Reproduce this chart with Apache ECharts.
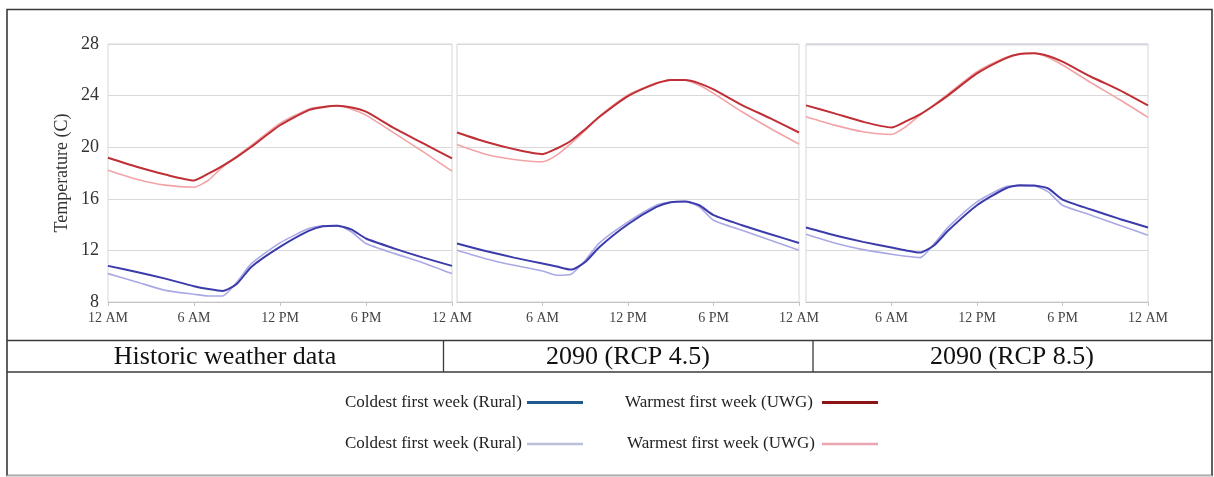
<!DOCTYPE html>
<html><head><meta charset="utf-8">
<script src="https://cdn.jsdelivr.net/npm/echarts@6/dist/echarts.min.js"></script>
<style>html,body{margin:0;padding:0;background:#fff}#c{width:1214px;height:477px}</style>
</head><body><div id="c"></div><script>
// ---- data ----
const hours = [0, 2, 4, 6, 7, 8, 9, 10, 12, 14, 15, 16, 17, 18, 20, 22, 24];
const tickLabels = ['12 AM', '6 AM', '12 PM', '6 PM', '12 AM'];
const yTicks = [8, 12, 16, 20, 24, 28];
const panelTitles = ['Historic weather data', '2090 (RCP 4.5)', '2090 (RCP 8.5)'];
const legendLabels = ['Coldest first week (Rural)', 'Warmest first week (UWG)', 'Coldest first week (Rural)', 'Warmest first week (UWG)'];

// Historic weather data
const histWarmDark  = [19.18, 18.48, 17.88, 17.42, 17.95, 18.56, 19.25, 20.03, 21.70, 22.88, 23.10, 23.21, 23.08, 22.75, 21.45, 20.29, 19.13];
const histWarmLight = [18.22, 17.52, 17.06, 16.90, 17.44, 18.48, 19.30, 20.15, 21.85, 22.95, 23.15, 23.21, 22.95, 22.49, 21.07, 19.64, 18.14];
const histColdDark  = [10.80, 10.33, 9.81, 9.22, 9.00, 8.85, 9.42, 10.72, 12.27, 13.51, 13.87, 13.92, 13.61, 12.92, 12.14, 11.44, 10.80];
const histColdLight = [10.20, 9.55, 8.90, 8.60, 8.47, 8.47, 9.55, 10.97, 12.58, 13.69, 13.90, 13.92, 13.43, 12.53, 11.75, 11.03, 10.20];
// 2090 RCP 4.5
const rcp45WarmDark  = [21.14, 20.42, 19.85, 19.46, 19.90, 20.50, 21.40, 22.36, 23.96, 24.95, 25.20, 25.20, 24.95, 24.48, 23.27, 22.23, 21.14];
const rcp45WarmLight = [20.21, 19.46, 19.05, 18.87, 19.38, 20.29, 21.30, 22.40, 24.05, 25.00, 25.20, 25.20, 24.80, 24.17, 22.75, 21.45, 20.24];
const rcp45ColdDark  = [12.53, 11.96, 11.44, 10.98, 10.75, 10.51, 11.10, 12.27, 14.03, 15.37, 15.74, 15.79, 15.50, 14.73, 13.95, 13.25, 12.58];
const rcp45ColdLight = [12.01, 11.36, 10.85, 10.41, 10.07, 10.15, 11.23, 12.58, 14.21, 15.50, 15.75, 15.79, 15.37, 14.34, 13.56, 12.79, 12.01];
// 2090 RCP 8.5
const rcp85WarmDark  = [23.24, 22.62, 21.97, 21.53, 22.00, 22.54, 23.25, 24.04, 25.72, 26.89, 27.22, 27.28, 27.07, 26.63, 25.46, 24.43, 23.24];
const rcp85WarmLight = [22.36, 21.71, 21.20, 20.99, 21.58, 22.49, 23.30, 24.15, 25.85, 26.95, 27.25, 27.28, 26.95, 26.37, 25.00, 23.70, 22.31];
const rcp85ColdDark  = [13.77, 13.17, 12.66, 12.22, 12.00, 11.83, 12.40, 13.56, 15.50, 16.80, 17.06, 17.03, 16.80, 15.94, 15.17, 14.44, 13.77];
const rcp85ColdLight = [13.25, 12.58, 12.06, 11.70, 11.55, 11.44, 12.53, 13.82, 15.76, 16.93, 17.00, 17.00, 16.54, 15.50, 14.73, 13.95, 13.17];

// ---- styling / building ----
const FONT = '"Liberation Serif", "Times New Roman", serif';
const C_WARM_DARK = '#bf2f35', C_WARM_LIGHT = '#f2a3a6', C_COLD_DARK = '#3b3bab', C_COLD_LIGHT = '#a9a9e6';
const panels = [
  [histWarmLight, histWarmDark, histColdLight, histColdDark],
  [rcp45WarmLight, rcp45WarmDark, rcp45ColdLight, rcp45ColdDark],
  [rcp85WarmLight, rcp85WarmDark, rcp85ColdLight, rcp85ColdDark]
];
const colors = [C_WARM_LIGHT, C_WARM_DARK, C_COLD_LIGHT, C_COLD_DARK];
const widths = [1.6, 2, 1.6, 2];
const gridPos = [{left: 108, width: 344}, {left: 457, width: 342}, {left: 806, width: 342}];

const grids = [], xAxes = [], yAxes = [], series = [];
gridPos.forEach((g, i) => {
  grids.push({left: g.left, width: g.width, top: 44, height: 258, show: true, borderColor: '#d6d6d6', borderWidth: 1, backgroundColor: 'transparent'});
  xAxes.push({
    gridIndex: i, type: 'value', min: 0, max: 24, interval: 6,
    axisLine: {show: true, lineStyle: {color: '#c4c4c4', width: 1}},
    axisTick: {show: true, length: 4, lineStyle: {color: '#c4c4c4'}},
    splitLine: {show: false},
    axisLabel: {show: true, showMinLabel: i === 0, fontFamily: FONT, fontSize: 14, color: '#444', margin: 9,
      formatter: v => tickLabels[Math.round(v / 6)]}
  });
  yAxes.push({
    gridIndex: i, type: 'value', min: yTicks[0], max: yTicks[yTicks.length - 1], interval: 4,
    axisLine: {show: false}, axisTick: {show: false},
    splitLine: {show: true, lineStyle: {color: '#d9d9d9', width: 1.2}},
    axisLabel: {show: i === 0, fontFamily: FONT, fontSize: 18, color: '#333', margin: 9},
    name: i === 0 ? 'Temperature (C)' : '', nameLocation: 'middle', nameGap: 37, nameRotate: 90,
    nameTextStyle: {fontFamily: FONT, fontSize: 18, color: '#333'}
  });
  panels[i].forEach((vals, k) => {
    series.push({
      type: 'line', xAxisIndex: i, yAxisIndex: i, showSymbol: false, smooth: 0.2,
      data: hours.map((h, j) => [h, vals[j]]),
      lineStyle: {color: colors[k], width: widths[k]}, itemStyle: {color: colors[k]},
      z: 2 + k, silent: true, animation: false
    });
  });
});

const graphic = [
  // outer frame
  {type: 'rect', shape: {x: 7, y: 9.5, width: 1205, height: 466}, style: {fill: 'none', stroke: '#3a3a3a', lineWidth: 1.6}, silent: true},
  {type: 'line', shape: {x1: 7, y1: 476, x2: 1212, y2: 476}, style: {stroke: '#d8d8d8', lineWidth: 1.5}},
  // table row lines
  {type: 'line', shape: {x1: 7, y1: 340.5, x2: 1212, y2: 340.5}, style: {stroke: '#3a3a3a', lineWidth: 1.5}},
  {type: 'line', shape: {x1: 7, y1: 372, x2: 1212, y2: 372}, style: {stroke: '#3a3a3a', lineWidth: 1.5}},
  {type: 'line', shape: {x1: 443.5, y1: 340.5, x2: 443.5, y2: 372}, style: {stroke: '#3a3a3a', lineWidth: 1.3}},
  {type: 'line', shape: {x1: 813, y1: 340.5, x2: 813, y2: 372}, style: {stroke: '#3a3a3a', lineWidth: 1.3}},
  // panel 3 top border tint
  {type: 'line', shape: {x1: 806, y1: 44.5, x2: 1148, y2: 44.5}, style: {stroke: '#b4b4dc', lineWidth: 1.3}}
];
const cellCenters = [225, 628, 1012];
panelTitles.forEach((t, i) => graphic.push({type: 'text', x: cellCenters[i], y: 357,
  style: {text: t, fontFamily: FONT, fontSize: 26, fill: '#111', align: 'center', verticalAlign: 'middle'}}));
// legend key
const legendItems = [
  {label: legendLabels[0], tx: 522, y: 402.5, lx1: 527, lx2: 583, color: '#1e5b8c', w: 3},
  {label: legendLabels[1], tx: 813, y: 402.5, lx1: 822, lx2: 878, color: '#8c1414', w: 3},
  {label: legendLabels[2], tx: 522, y: 444, lx1: 527, lx2: 583, color: '#b9c0d8', w: 2.5},
  {label: legendLabels[3], tx: 815, y: 444, lx1: 822, lx2: 878, color: '#eba6b2', w: 2.5}
];
legendItems.forEach(it => {
  graphic.push({type: 'text', x: it.tx, y: it.y, style: {text: it.label, fontFamily: FONT, fontSize: 17, fill: '#222', align: 'right', verticalAlign: 'middle'}});
  graphic.push({type: 'line', shape: {x1: it.lx1, y1: it.y, x2: it.lx2, y2: it.y}, style: {stroke: it.color, lineWidth: it.w}});
});

const chart = echarts.init(document.getElementById('c'), null, {renderer: 'canvas'});
chart.setOption({
  animation: false,
  backgroundColor: '#ffffff',
  grid: grids, xAxis: xAxes, yAxis: yAxes, series: series,
  graphic: graphic
});
</script></body></html>
